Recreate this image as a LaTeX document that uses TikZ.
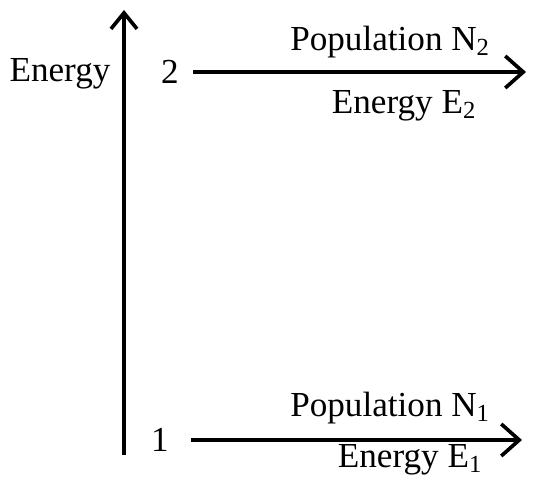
\documentclass[tikz,border=0pt]{standalone}
\usepackage{fontspec}
\setmainfont{Liberation Serif}
\usepackage{tikz}
\usetikzlibrary{positioning,arrows.meta}
\tikzset{
  axis/.style    ={-{Straight Barb[length=4mm,width=6.5mm,line width=2.6pt]},line width=3pt,draw=black},
  flow/.style    ={-{Straight Barb[length=4.5mm,width=8mm,line width=2.6pt]},line width=3pt,draw=black},
  lbl/.style     ={inner sep=0pt,font=\fontsize{25}{30}\selectfont},
}
\begin{document}
\begin{tikzpicture}
  \useasboundingbox (0,0) rectangle (13.4,12);
  \coordinate (ebot) at (3.1,0.62);
  \coordinate (etop) at (3.1,11.75);
  \draw[axis] (ebot) -- (etop);
  \node[lbl] (elabel) at (1.5,10.15) {Energy};
  % upper level
  \node[lbl] (lvltwo) at (4.25,10.2) {2};
  \coordinate (endtwo) at (13.15,10.2);
  \draw[flow] (lvltwo.east) ++(0.35,0) coordinate (starttwo) (starttwo) -- (endtwo);
  \node[lbl] (poptwo) at (9.75,10.95) {Population N\textsubscript{2}};
  \node[lbl] (entwo) at (10.1,9.35) {Energy E\textsubscript{2}};
  % lower level
  \node[lbl] (lvlone) at (4.0,1.0) {1};
  \coordinate (endone) at (13.05,1.0);
  \draw[flow] (lvlone.east) ++(0.55,0) coordinate (startone) (startone) -- (endone);
  \node[lbl] (popone) at (9.75,1.8) {Population N\textsubscript{1}};
  \node[lbl] (enone) at (10.25,0.5) {Energy E\textsubscript{1}};
\end{tikzpicture}
\end{document}
